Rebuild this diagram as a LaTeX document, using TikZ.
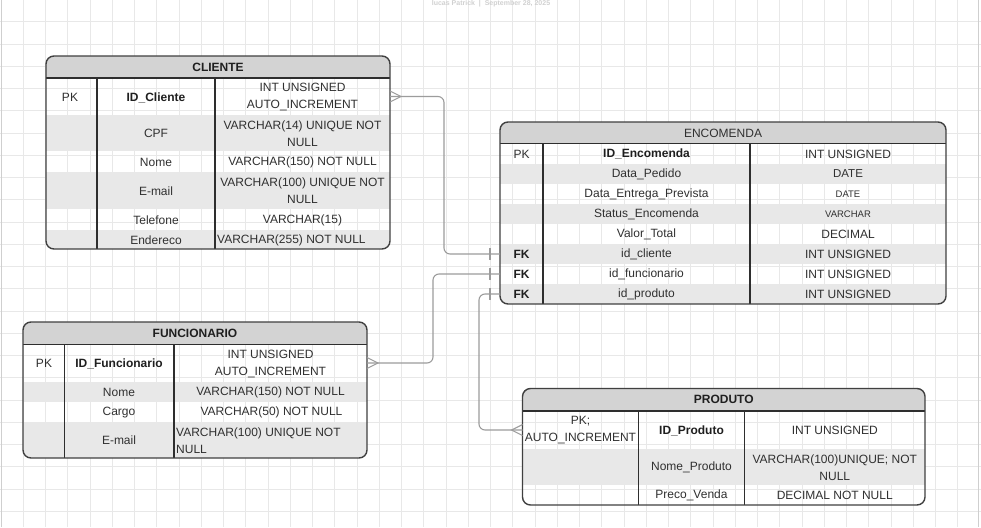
\documentclass[tikz,border=0pt]{standalone}
\usepackage{fontspec}
\setmainfont{Liberation Sans}
\definecolor{gridc}{HTML}{E8E8E8}
\definecolor{edgec}{HTML}{CFCFCF}
\definecolor{tline}{HTML}{404040}
\definecolor{divc}{HTML}{2E2E2E}
\definecolor{hdrfill}{HTML}{D3D3D3}
\definecolor{rowfill}{HTML}{E8E8E8}
\definecolor{txt}{HTML}{303030}
\definecolor{linkc}{HTML}{9C9C9C}
\tikzset{
  tbox/.style={draw=tline, line width=1.4pt, rounded corners=8pt},
  divider/.style={draw=divc, line width=1.1pt},
  cell/.style={font=\fontsize{12}{17}\selectfont, text=txt, align=center, inner sep=0pt},
  cellb/.style={cell, font=\fontsize{12}{17}\selectfont\bfseries, text=black!88},
  small/.style={cell, font=\fontsize{9.5}{12}\selectfont},
  link/.style={draw=linkc, line width=1.1pt, rounded corners=6pt},
  foot/.style={draw=linkc, line width=1.1pt}
}
\begin{document}
\begin{tikzpicture}[x=1pt,y=-1pt]
\useasboundingbox (0,0) rectangle (981,527);
\fill[white] (0,0) rectangle (981,527);

% background grid
\foreach \i in {0,...,43} \draw[gridc, line width=0.8pt] ({1+22.25*\i},0) -- ({1+22.25*\i},527);
\foreach \j in {1,...,24} \draw[gridc, line width=0.8pt] (0,{-0.5+22.25*\j}) -- (981,{-0.5+22.25*\j});
\draw[edgec, line width=1pt] (1.5,0) -- (1.5,527);
\draw[edgec, line width=1pt] (978,0) -- (978,527);

% author line
\node[font=\fontsize{7}{8}\selectfont\bfseries, text=black!18, inner sep=0pt] (author) at (491,4) {lucas Patrick \ | \ September 28, 2025};

% ---------------- CLIENTE ----------------
\begin{scope}
  \clip[rounded corners=8pt] (46,56) rectangle (390,249);
  \fill[hdrfill] (46,56) rectangle (390,78);
  \fill[rowfill] (46,115) rectangle (390,151);
  \fill[rowfill] (46,172) rectangle (390,209);
  \fill[rowfill] (46,230) rectangle (390,249);
\end{scope}
\draw[divider] (46,78) -- (390,78);
\draw[divider] (97,78) -- (97,249);
\draw[divider] (215,78) -- (215,249);
\draw[tbox] (46,56) rectangle (390,249);
\node[cellb] (cli-t) at (218,67) {CLIENTE};
\node[cell] (cli-pk) at (70,97) {PK};
\node[cellb] (cli-id) at (156,97.5) {ID\_Cliente};
\node[cell] (cli-idt) at (302.5,97.5) {INT UNSIGNED\\AUTO\_INCREMENT};
\node[cell] (cli-cpf) at (156,133.5) {CPF};
\node[cell] (cli-cpft) at (302.5,133.5) {VARCHAR(14) UNIQUE NOT\\NULL};
\node[cell] (cli-nome) at (156,162) {Nome};
\node[cell] (cli-nomet) at (302.5,162) {VARCHAR(150) NOT NULL};
\node[cell] (cli-mail) at (156,191) {E-mail};
\node[cell] (cli-mailt) at (302.5,191) {VARCHAR(100) UNIQUE NOT\\NULL};
\node[cell] (cli-tel) at (156,220) {Telefone};
\node[cell] (cli-telt) at (302.5,220) {VARCHAR(15)};
\node[cell] (cli-end) at (156,240) {Endereco};
\node[cell, anchor=west] (cli-endt) at (217,240) {VARCHAR(255) NOT NULL};
\coordinate (cli-out) at (390,96.5);

% ---------------- ENCOMENDA ----------------
\begin{scope}
  \clip[rounded corners=8pt] (500,122) rectangle (946,304);
  \fill[hdrfill] (500,122) rectangle (946,143.5);
  \fill[rowfill] (500,163.5) rectangle (946,183.5);
  \fill[rowfill] (500,203.5) rectangle (946,223.5);
  \fill[rowfill] (500,243.5) rectangle (946,263.5);
  \fill[rowfill] (500,283.5) rectangle (946,304);
\end{scope}
\draw[divider] (500,143.5) -- (946,143.5);
\draw[divider] (543,143.5) -- (543,304);
\draw[divider] (750,143.5) -- (750,304);
\draw[tbox] (500,122) rectangle (946,304);
\node[cell] (enc-t) at (723,133) {ENCOMENDA};
\node[cell] (enc-pk) at (521.5,154) {PK};
\node[cellb] (enc-id) at (646.5,154) {ID\_Encomenda};
\node[cell] (enc-idt) at (848,154) {INT UNSIGNED};
\node[cell] (enc-dp) at (646.5,174) {Data\_Pedido};
\node[cell, font=\fontsize{11.5}{14}\selectfont] (enc-dpt) at (848,174) {DATE};
\node[cell] (enc-de) at (646.5,194) {Data\_Entrega\_Prevista};
\node[small] (enc-det) at (848,194) {DATE};
\node[cell] (enc-st) at (646.5,214) {Status\_Encomenda};
\node[small] (enc-stt) at (848,214) {VARCHAR};
\node[cell] (enc-vt) at (646.5,234) {Valor\_Total};
\node[cell] (enc-vtt) at (848,234) {DECIMAL};
\node[cellb] (enc-fk1) at (521.5,254) {FK};
\node[cell] (enc-c) at (646.5,254) {id\_cliente};
\node[cell] (enc-ct) at (848,254) {INT UNSIGNED};
\node[cellb] (enc-fk2) at (521.5,274) {FK};
\node[cell] (enc-f) at (646.5,274) {id\_funcionario};
\node[cell] (enc-ft) at (848,274) {INT UNSIGNED};
\node[cellb] (enc-fk3) at (521.5,294) {FK};
\node[cell] (enc-p) at (646.5,294) {id\_produto};
\node[cell] (enc-pt) at (848,294) {INT UNSIGNED};
\coordinate (enc-in1) at (500,254);
\coordinate (enc-in2) at (500,274);
\coordinate (enc-in3) at (500,294);

% ---------------- FUNCIONARIO ----------------
\begin{scope}
  \clip[rounded corners=8pt] (23,322) rectangle (367,458);
  \fill[hdrfill] (23,322) rectangle (367,344.5);
  \fill[rowfill] (23,382) rectangle (367,402);
  \fill[rowfill] (23,422) rectangle (367,458);
\end{scope}
\draw[divider] (23,344.5) -- (367,344.5);
\draw[divider] (64.5,344.5) -- (64.5,458);
\draw[divider] (174,344.5) -- (174,458);
\draw[tbox] (23,322) rectangle (367,458);
\node[cellb] (fun-t) at (195,333) {FUNCIONARIO};
\node[cell] (fun-pk) at (44,363.5) {PK};
\node[cellb] (fun-id) at (119,363.5) {ID\_Funcionario};
\node[cell] (fun-idt) at (270.5,363.5) {INT UNSIGNED\\AUTO\_INCREMENT};
\node[cell] (fun-nome) at (119,392.5) {Nome};
\node[cell] (fun-nomet) at (270.5,392.5) {VARCHAR(150) NOT NULL};
\node[cell] (fun-cargo) at (119,412.5) {Cargo};
\node[cell] (fun-cargot) at (271.5,412.5) {VARCHAR(50) NOT NULL};
\node[cell] (fun-mail) at (119,440.5) {E-mail};
\node[cell, align=left, anchor=west] (fun-mailt) at (176,440.5) {VARCHAR(100) UNIQUE NOT\\NULL};
\coordinate (fun-out) at (367,363);

% ---------------- PRODUTO ----------------
\begin{scope}
  \clip[rounded corners=8pt] (522.5,388.5) rectangle (925,505);
  \fill[hdrfill] (522.5,388.5) rectangle (925,411);
  \fill[rowfill] (522.5,448.5) rectangle (925,485);
\end{scope}
\draw[divider] (522.5,411) -- (925,411);
\draw[divider] (638.5,411) -- (638.5,505);
\draw[divider] (744.5,411) -- (744.5,505);
\draw[tbox] (522.5,388.5) rectangle (925,505);
\node[cellb] (pro-t) at (723.75,399.5) {PRODUTO};
\node[cell] (pro-pk) at (580.5,430) {PK;\\AUTO\_INCREMENT};
\node[cellb] (pro-id) at (691.5,430.5) {ID\_Produto};
\node[cell] (pro-idt) at (834.75,430.5) {INT UNSIGNED};
\node[cell] (pro-nome) at (691.5,467.5) {Nome\_Produto};
\node[cell] (pro-nomet) at (834.75,467.5) {VARCHAR(100)UNIQUE; NOT\\NULL};
\node[cell] (pro-preco) at (691.5,495.5) {Preco\_Venda};
\node[cell] (pro-precot) at (834.75,495.5) {DECIMAL NOT NULL};
\coordinate (pro-out) at (522.5,430);

% ---------------- relationships ----------------
% CLIENTE (many) -- ENCOMENDA.id_cliente (one)
\draw[link] (cli-out) -- ++(54,0) |- (enc-in1);
\draw[foot] (cli-out) ++(0,-5.5) -- ++(11,5.5) -- ++(-11,5.5);
\draw[foot] (enc-in1) ++(-10,-6) -- ++(0,12);

% FUNCIONARIO (many) -- ENCOMENDA.id_funcionario (one)
\draw[link] (fun-out) -- ++(66,0) |- (enc-in2);
\draw[foot] (fun-out) ++(0,-5.5) -- ++(11,5.5) -- ++(-11,5.5);
\draw[foot] (enc-in2) ++(-10,-6) -- ++(0,12);

% PRODUTO (many) -- ENCOMENDA.id_produto (one)
\draw[link] (pro-out) -- ++(-43.5,0) |- (enc-in3);
\draw[foot] (pro-out) ++(0,-5.5) -- ++(-11,5.5) -- ++(11,5.5);
\draw[foot] (enc-in3) ++(-10,-6) -- ++(0,12);
\end{tikzpicture}
\end{document}
